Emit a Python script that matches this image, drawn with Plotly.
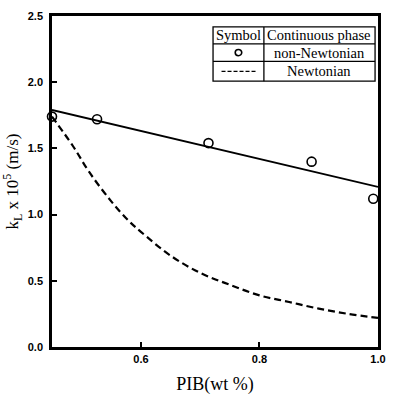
import plotly.graph_objects as go

# Data
pib_points = [0.45, 0.526, 0.714, 0.888, 0.992]
kl_points = [1.74, 1.72, 1.54, 1.40, 1.12]

fit_x = [0.45, 1.0]
fit_y = [1.79, 1.21]

newt_x = [0.45, 0.485, 0.513, 0.55, 0.58, 0.60, 0.65, 0.70, 0.75, 0.80, 0.85, 0.90, 0.95, 1.00]
newt_y = [1.74, 1.52, 1.32, 1.10, 0.95, 0.87, 0.69, 0.56, 0.47, 0.39, 0.34, 0.29, 0.25, 0.22]

x_ticks = [0.6, 0.8, 1.0]
y_ticks = [0.0, 0.5, 1.0, 1.5, 2.0, 2.5]

fig = go.Figure()
fig.add_trace(go.Scatter(x=newt_x, y=newt_y, mode="lines",
                         line=dict(color="black", width=2.2, dash="7px,4px", shape="spline"),
                         cliponaxis=False, showlegend=False))
fig.add_trace(go.Scatter(x=fit_x, y=fit_y, mode="lines",
                         line=dict(color="black", width=1.8), showlegend=False))
fig.add_trace(go.Scatter(x=pib_points, y=kl_points, mode="markers",
                         marker=dict(symbol="circle-open", size=9, color="black",
                                     line=dict(width=1.6)),
                         cliponaxis=False, showlegend=False))

tickfont = dict(family="Liberation Sans, Arial", size=11, color="black", weight="bold")
common = dict(ticks="inside", ticklen=5, tickwidth=1.5, tickcolor="black",
              showline=True, linecolor="black", linewidth=2.5, mirror=True,
              showgrid=False, zeroline=False, tickfont=tickfont,
              ticklabeloverflow="allow")
fig.update_xaxes(range=[0.45, 1.0], tickvals=x_ticks, ticktext=["0.6", "0.8", "1.0"],
                 title=dict(text="PIB(wt %)", font=dict(family="Liberation Serif, Times New Roman",
                                                        size=18, color="black"), standoff=14),
                 **common)
fig.update_yaxes(range=[0.0, 2.5], tickvals=y_ticks, ticktext=["0.0", "0.5", "1.0", "1.5", "2.0", "2.5"],
                 ticklabelstandoff=4,
                 title=dict(text="k<sub>L</sub> x 10<sup>5</sup> (m/s)",
                            font=dict(family="Liberation Serif, Times New Roman", size=17, color="black"),
                            standoff=6),
                 **common)

# Legend table (paper coordinates)
x0, xm, x1 = 0.494, 0.650, 0.991
ya, yb, yc, yd = 0.967, 0.916, 0.863, 0.803
shapes = [
    dict(type="rect", xref="paper", yref="paper", x0=x0, x1=x1, y0=yd, y1=ya,
         line=dict(color="black", width=1.3), fillcolor="white", layer="above"),
    dict(type="line", xref="paper", yref="paper", x0=xm, x1=xm, y0=yd, y1=ya,
         line=dict(color="black", width=1.3)),
    dict(type="line", xref="paper", yref="paper", x0=x0, x1=x1, y0=yb, y1=yb,
         line=dict(color="black", width=1.3)),
    dict(type="line", xref="paper", yref="paper", x0=x0, x1=x1, y0=yc, y1=yc,
         line=dict(color="black", width=1.3)),
    dict(type="line", xref="paper", yref="paper", x0=0.52, x1=0.63, y0=0.833, y1=0.833,
         line=dict(color="black", width=1.2, dash="4px,2px")),
    dict(type="circle", xref="paper", yref="paper", x0=0.562, x1=0.582, y0=0.880, y1=0.899,
         line=dict(color="black", width=1.6)),
]
lf = dict(family="Liberation Serif, Times New Roman", size=14.5, color="black")
annots = [
    dict(text="Symbol", x=(x0 + xm) / 2, y=(ya + yb) / 2),
    dict(text="Continuous phase", x=(xm + x1) / 2, y=(ya + yb) / 2),
    dict(text="non-Newtonian", x=(xm + x1) / 2, y=(yb + yc) / 2),
    dict(text="Newtonian", x=(xm + x1) / 2, y=(yc + yd) / 2),
]
for a in annots:
    a.update(xref="paper", yref="paper", showarrow=False, font=lf, xanchor="center", yanchor="middle")

fig.update_layout(width=396, height=405, margin=dict(l=52, r=10, t=12, b=58),
                  plot_bgcolor="white", paper_bgcolor="white",
                  shapes=shapes, annotations=annots, showlegend=False)
fig.write_html("out.html", config={"displayModeBar": False},
               post_script="document.body.style.margin='0';document.body.style.overflow='hidden';")
